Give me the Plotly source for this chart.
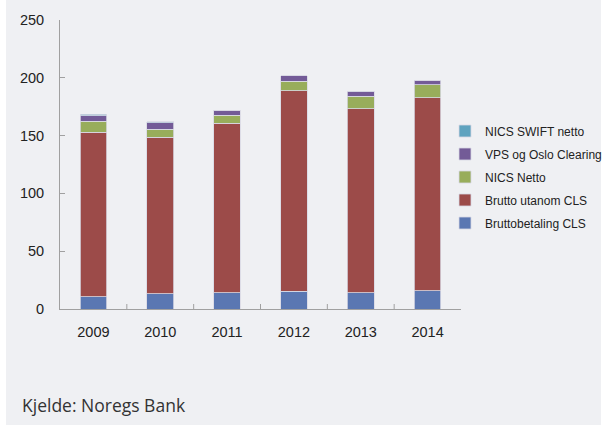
import plotly.graph_objects as go

years = ["2009", "2010", "2011", "2012", "2013", "2014"]
brutto_cls = [10.7, 13.0, 14.1, 15.3, 13.9, 15.6]
brutto_utanom = [142.3, 135.4, 146.7, 173.3, 159.4, 167.2]
nics_netto = [9.6, 7.2, 6.7, 8.6, 10.7, 11.0]
vps_oslo = [4.6, 5.6, 4.3, 4.4, 4.0, 4.0]
nics_swift = [1.4, 0.8, 0.3, 0.3, 0.3, 0.3]

series = [
    ("Bruttobetaling CLS", brutto_cls, "#5A77B2"),
    ("Brutto utanom CLS", brutto_utanom, "#9C4B49"),
    ("NICS Netto", nics_netto, "#98AD5B"),
    ("VPS og Oslo Clearing", vps_oslo, "#735B97"),
    ("NICS SWIFT netto", nics_swift, "#5FA3BF"),
]

fig = go.Figure()
n = len(series)
for i, (name, vals, col) in enumerate(series):
    fig.add_trace(go.Bar(
        x=years, y=vals, name=name, legendgroup=name,
        legendrank=n - i,
        marker=dict(color=col, line=dict(color="#D8D8E4", width=0.8)),
        width=0.4,
    ))

bg = "#EFF0F3"
L, T, R, B = 60, 20, 147, 117
W, H = 608, 426
pw = W - L - R
ph = H - T - B
fig.update_layout(
    width=W, height=H,
    barmode="stack",
    paper_bgcolor="white",
    plot_bgcolor=bg,
    margin=dict(l=L, r=R, t=T, b=B, autoexpand=False),
    font=dict(family="Liberation Sans, Arial, sans-serif", size=14.5, color="#222"),
    legend=dict(
        xref="container", yref="container",
        x=445 / W, y=(H - 177) / H, xanchor="left", yanchor="middle",
        traceorder="grouped",
        font=dict(size=12, color="#222"),
        bgcolor="rgba(0,0,0,0)",
        itemwidth=30,
        tracegroupgap=4,
    ),
    xaxis=dict(
        showline=True, linecolor="#A0A0A0", linewidth=1,
        ticks="", showgrid=False, tickfont=dict(size=14.5),
        ticklabelstandoff=10,
    ),
    yaxis=dict(
        range=[0, 250], dtick=50,
        showline=True, linecolor="#A0A0A0", linewidth=1,
        ticks="inside", ticklen=5, tickcolor="#A0A0A0",
        showgrid=False, zeroline=False, tickfont=dict(size=14.5),
        ticklabelstandoff=12,
    ),
    shapes=[
        dict(type="rect", xref="paper", yref="paper",
             x0=(6 - L) / pw, x1=(601 - L) / pw,
             y0=(H - B - 425) / ph, y1=(H - B) / ph,
             fillcolor=bg, line=dict(width=0), layer="below"),
    ],
    annotations=[
        dict(text="Kjelde: Noregs Bank", xref="paper", yref="paper",
             x=(20 - L) / pw, y=(H - B - 405) / ph, xanchor="left", yanchor="middle",
             showarrow=False,
             font=dict(family="Open Sans, Lato, sans-serif", size=17.5, color="#333")),
    ],
)

# category boundary tick marks on x axis (Excel style, pointing inward)
for i in range(1, len(years)):
    fig.add_shape(type="line", xref="x", yref="paper",
                  x0=i - 0.5, x1=i - 0.5, y0=0, y1=5 / ph,
                  line=dict(color="#A0A0A0", width=1))

fig.write_html("out.html", config={"displayModeBar": False},
               post_script="document.body.style.margin='0';")
